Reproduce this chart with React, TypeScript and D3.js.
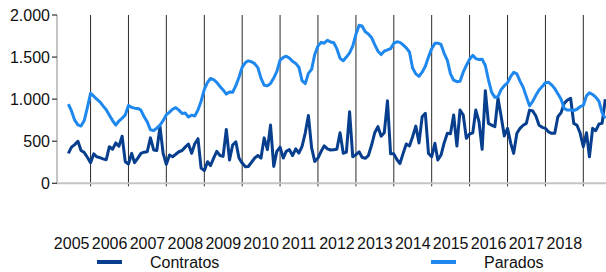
import React from "react";
import * as d3 from "d3";

// monthly values, first month is June 2005
const firstMonth = new Date(2005, 5, 1);

const contratos = [
  356, 430, 460, 500, 390, 365, 310, 245, 350, 316,
  305, 290, 280, 435, 405, 480, 440, 560, 257, 229,
  356, 245, 300, 356, 370, 375, 540, 396, 390, 673,
  356, 225, 336, 316, 345, 375, 390, 430, 467, 356,
  470, 530, 180, 150, 257, 210, 300, 380, 330, 320,
  640, 277, 455, 494, 300, 240, 197, 200, 250, 300,
  330, 300, 540, 400, 692, 200, 380, 430, 300, 380,
  400, 330, 410, 360, 440, 600, 805, 420, 260, 300,
  380, 445, 410, 396, 400, 404, 600, 356, 370, 850,
  316, 340, 375, 310, 297, 330, 455, 600, 673, 560,
  600, 980, 350, 350, 280, 235, 356, 467, 443, 553,
  680, 480, 790, 831, 356, 316, 475, 277, 336, 480,
  594, 590, 811, 443, 870, 811, 534, 586, 600, 870,
  732, 404, 1100, 712, 690, 673, 1010, 791, 562, 653,
  475, 356, 594, 653, 690, 712, 870, 860, 800, 690,
  665, 653, 610, 594, 594, 791, 840, 950, 990, 1010,
  712, 690, 600, 435, 600, 316, 653, 625, 704, 712, 1000,
];

const parados = [
  940, 860, 750, 695, 680, 745, 900, 1069, 1035, 1000,
  968, 920, 875, 810, 745, 692, 740, 775, 811, 925,
  902, 893, 890, 870, 790, 730, 635, 628, 655, 692,
  745, 815, 845, 880, 900, 870, 830, 835, 788, 810,
  800, 870, 975, 1115, 1200, 1245, 1232, 1200, 1150, 1110,
  1060, 1085, 1082, 1160, 1260, 1380, 1435, 1455, 1445, 1422,
  1375, 1250, 1165, 1158, 1185, 1250, 1330, 1464, 1495, 1510,
  1488, 1450, 1425, 1380, 1220, 1185, 1306, 1354, 1530, 1630,
  1675, 1665, 1700, 1680, 1670, 1600, 1485, 1456, 1500, 1550,
  1630, 1770, 1878, 1870, 1800, 1775, 1730, 1648, 1570, 1530,
  1570, 1585, 1600, 1665, 1682, 1675, 1645, 1610, 1560, 1370,
  1300, 1270, 1320, 1390, 1500, 1600, 1663, 1665, 1650, 1545,
  1460, 1300, 1225, 1207, 1212, 1320, 1400, 1475, 1520, 1482,
  1470, 1475, 1400, 1230, 1080, 1021, 1030, 1115, 1160, 1195,
  1270, 1318, 1300, 1215, 1140, 1030, 920, 975, 1045, 1110,
  1150, 1195, 1200, 1170, 1125, 1065, 1000, 890, 870, 870,
  865, 880, 910, 925, 1040, 1075, 1055, 1025, 975, 840, 770,
];

const years = [2005, 2006, 2007, 2008, 2009, 2010, 2011, 2012, 2013, 2014, 2015, 2016, 2017, 2018];
const yTicks = [0, 500, 1000, 1500, 2000];
const seriesNames = ["Contratos", "Parados"];

const width = 606;
const height = 272;
const font = "'Liberation Sans', Arial, sans-serif";
const colors = ["#073f8e", "#1f88ee"];

const esLocale = d3.formatLocale({ decimal: ",", thousands: ".", grouping: [3], currency: ["", " €"] });
const fmt = esLocale.format(",d");

export default function App() {
  const axisX = 57;
  const top = 15;
  const bottom = 183.3;

  const x = d3
    .scaleTime()
    .domain([new Date(2005, 0, 1), new Date(2019, 0, 1)])
    .range([52.7, 583.3]);
  const yearBand = d3.scaleBand<number>().domain(years).range([52.7, 583.3]);
  const y = d3.scaleLinear().domain([0, 2000]).range([bottom, top]);

  const month = (i: number) => d3.timeMonth.offset(firstMonth, i);
  const line = d3
    .line<number>()
    .x((_, i) => x(month(i)))
    .y((d) => y(d));

  const series = [contratos, parados];

  return (
    <svg
      width={width}
      height={height}
      style={{ position: "absolute", left: 0, top: 0, background: "#fff" }}
      fontFamily={font}
    >
      {/* year separators */}
      {years.map((yr) => {
        const xx = x(new Date(yr + 1, 0, 1));
        return <line key={yr} x1={xx} x2={xx} y1={top} y2={bottom + 3} stroke="#2a2a2a" strokeWidth={1} />;
      })}

      {/* axes */}
      <line x1={axisX} x2={axisX} y1={top} y2={bottom} stroke="#c4c4c4" strokeWidth={2} />
      <line x1={axisX} x2={width} y1={bottom} y2={bottom} stroke="#c4c4c4" strokeWidth={2} />
      {yTicks.map((t) => (
        <g key={t} transform={`translate(0,${y(t)})`}>
          <line x1={axisX - 5} x2={axisX} stroke="#333" strokeWidth={1.2} />
          <text x={axisX - 7} dy="0.35em" textAnchor="end" fontSize={16} fill="#111">
            {fmt(t)}
          </text>
        </g>
      ))}
      {years.map((yr) => (
        <text
          key={yr}
          x={(yearBand(yr) ?? 0) + yearBand.bandwidth() / 2}
          y={249}
          textAnchor="middle"
          fontSize={16}
          fill="#111"
        >
          {yr}
        </text>
      ))}

      {/* series */}
      {series.map((s, k) => (
        <path key={k} d={line(s) ?? ""} fill="none" stroke={colors[k]} strokeWidth={3} strokeLinejoin="round" />
      ))}

      {/* legend */}
      {seriesNames.map((name, k) => {
        const lx = k === 0 ? 97 : 431;
        return (
          <g key={name} transform={`translate(${lx},262)`}>
            <line x1={0} x2={25} stroke={colors[k]} strokeWidth={4} />
            <text x={53} dy="0.35em" fontSize={16} fill="#111">
              {name}
            </text>
          </g>
        );
      })}
    </svg>
  );
}
